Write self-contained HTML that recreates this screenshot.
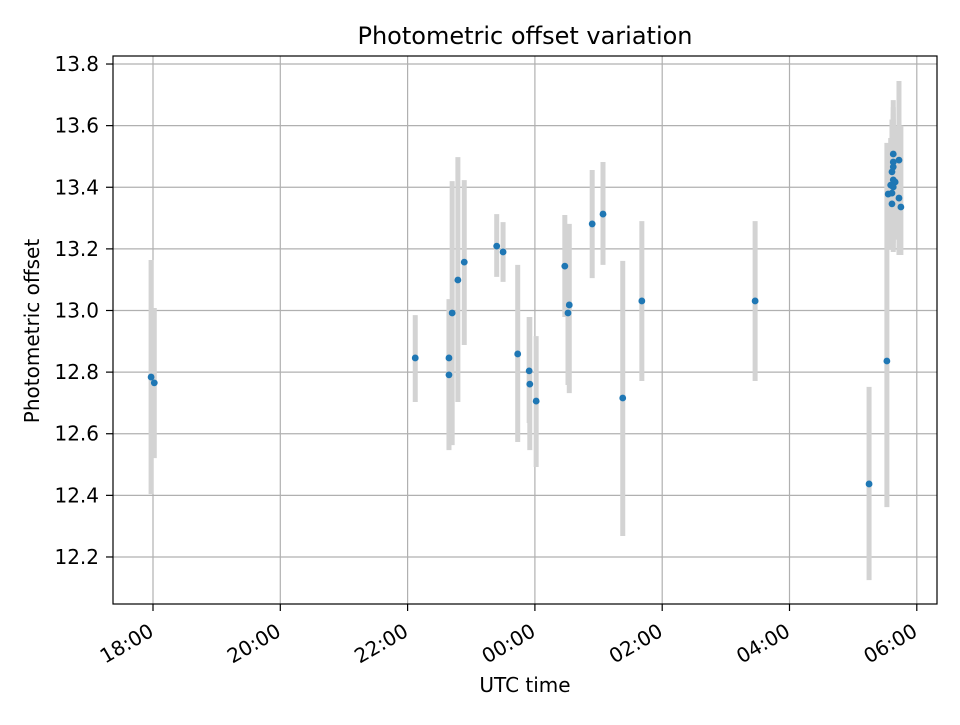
<!DOCTYPE html>
<html><head><meta charset="utf-8"><style>
body{margin:0;background:#fff}
svg text{font-family:"DejaVu Sans","Liberation Sans",sans-serif;fill:#000}
</style></head><body>
<svg id="chart" width="960" height="720" xmlns="http://www.w3.org/2000/svg">
<rect width="960" height="720" fill="#fff"/>
<g id="grid"></g>
<g id="errs"></g>
<g id="pts"></g>
<rect x="113" y="56" width="824" height="548" fill="none" stroke="#000" stroke-width="1.2"/>
<g id="axes"></g>
<text x="525" y="44" font-size="24" text-anchor="middle">Photometric offset variation</text>
<text x="525" y="692" font-size="20" text-anchor="middle">UTC time</text>
<text transform="translate(39,331) rotate(-90)" font-size="20" text-anchor="middle">Photometric offset</text>
</svg>
<script>
// hours since 18:00 UTC
const times=[-0.03,0.02,4.12,4.65,4.65,4.70,4.79,4.89,5.40,5.50,5.73,5.91,5.92,6.02,6.47,6.54,6.52,6.90,7.07,7.38,7.68,9.46,11.25,11.53,11.63,11.72,11.63,11.63,11.61,11.63,11.66,11.59,11.63,11.55,11.61,11.72,11.61,11.75];
const values=[12.784,12.765,12.846,12.846,12.791,12.992,13.099,13.157,13.209,13.190,12.859,12.804,12.761,12.706,13.144,13.018,12.992,13.281,13.313,12.716,13.031,13.031,12.437,12.836,13.508,13.488,13.482,13.466,13.450,13.424,13.417,13.407,13.401,13.378,13.381,13.365,13.346,13.336];
const errHigh=[13.164,13.008,12.985,13.037,12.990,13.420,13.498,13.423,13.313,13.287,13.148,12.979,12.979,12.917,13.310,13.281,13.277,13.456,13.482,13.161,13.290,13.290,12.752,13.544,13.683,13.745,13.660,13.640,13.620,13.580,13.600,13.560,13.620,13.540,13.600,13.620,13.560,13.600];
const errLow=[12.404,12.521,12.703,12.547,12.550,12.563,12.703,12.888,13.109,13.093,12.573,12.635,12.547,12.492,12.979,12.732,12.758,13.105,13.148,12.268,12.771,12.771,12.125,12.362,13.229,13.180,13.250,13.200,13.250,13.190,13.230,13.210,13.220,13.200,13.240,13.190,13.200,13.180];
const yTicks=[12.2,12.4,12.6,12.8,13.0,13.2,13.4,13.6,13.8];
const xTicks=[0,2,4,6,8,10,12];
const xTickLabels=["18:00","20:00","22:00","00:00","02:00","04:00","06:00"];

const NS="http://www.w3.org/2000/svg";
const x=t=>153+t*63.65;
const y=v=>310.5-(v-13.0)*308.1;
function mk(tag,attrs,parent){const e=document.createElementNS(NS,tag);for(const k in attrs)e.setAttribute(k,attrs[k]);parent.appendChild(e);return e;}
const grid=document.getElementById('grid'),axes=document.getElementById('axes'),errs=document.getElementById('errs'),pts=document.getElementById('pts');
yTicks.forEach(v=>{
  const g=mk('line',{x1:113,x2:937,y1:y(v),y2:y(v),stroke:'#b0b0b0','stroke-width':1.2},grid);
  
  
  const t=mk('line',{x1:106,x2:113,y1:y(v),y2:y(v),stroke:'#000','stroke-width':1.2},axes);
  
  
  const l=mk('text',{x:99,y:y(v)+7,'font-size':20,'text-anchor':'end'},axes);
  l.textContent=v.toFixed(1);
  
  
});
xTicks.forEach((h,i)=>{
  const g=mk('line',{x1:x(h),x2:x(h),y1:56,y2:604,stroke:'#b0b0b0','stroke-width':1.2},grid);
  
  
  const t=mk('line',{x1:x(h),x2:x(h),y1:604,y2:611,stroke:'#000','stroke-width':1.2},axes);
  
  
  const l=mk('text',{transform:`translate(${x(h)+2},${635}) rotate(-30)`,'font-size':20,'text-anchor':'end'},axes);
  l.textContent=xTickLabels[i];
  
  
});
times.forEach((t,i)=>{
  const e=mk('line',{x1:x(t),x2:x(t),y1:y(errHigh[i]),y2:y(errLow[i]),stroke:'#d3d3d3','stroke-width':5},errs);
  
  
});
times.forEach((t,i)=>{
  const c=mk('circle',{cx:x(t),cy:y(values[i]),r:3.4,fill:'#1f77b4'},pts);
  
  
});
</script>
</body></html>
